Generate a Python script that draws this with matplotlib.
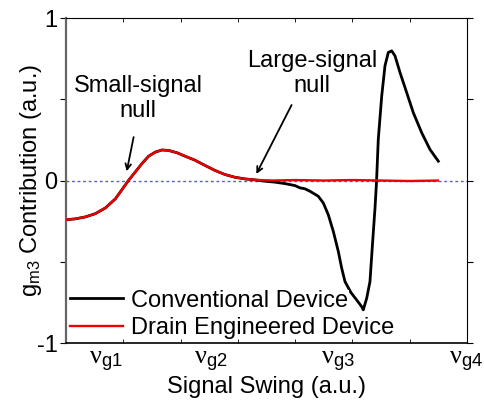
import matplotlib
matplotlib.use('Agg')
import matplotlib.pyplot as plt
import numpy as np

plt.rcParams['font.family'] = ['Liberation Sans', 'DejaVu Sans']
plt.rcParams['mathtext.fontset'] = 'custom'
plt.rcParams['mathtext.rm'] = 'Liberation Serif'
plt.rcParams['mathtext.it'] = 'Liberation Serif:italic'
plt.rcParams['mathtext.sf'] = 'Liberation Sans'

# shared part of both curves (signal swing, gm3 contribution)
x_common = [0.0, 0.162, 0.337, 0.511, 0.686, 0.861, 0.977, 1.094, 1.210,
            1.327, 1.443, 1.559, 1.676, 1.793, 1.938, 2.077, 2.252, 2.426,
            2.601, 2.775, 2.950, 3.124, 3.299]
y_common = [-0.241, -0.236, -0.224, -0.204, -0.169, -0.113, -0.056, 0.002,
            0.053, 0.105, 0.150, 0.175, 0.188, 0.185, 0.171, 0.150, 0.125,
            0.093, 0.062, 0.037, 0.020, 0.010, 0.004]

# conventional device beyond the small-signal region
x_conv_tail = [3.474, 3.648, 3.823, 3.997, 4.084, 4.172, 4.259, 4.404, 4.491,
               4.578, 4.666, 4.753, 4.812, 4.870, 4.975, 5.074, 5.161, 5.189,
               5.249, 5.306, 5.353, 5.394, 5.420, 5.451, 5.511, 5.568, 5.626,
               5.685, 5.743, 5.830, 5.947, 6.062, 6.209, 6.354, 6.499]
y_conv_tail = [-0.004, -0.010, -0.019, -0.031, -0.045, -0.051, -0.066, -0.097,
               -0.138, -0.210, -0.313, -0.436, -0.539, -0.622, -0.690, -0.735,
               -0.776, -0.796, -0.724, -0.622, -0.375, -0.169, -0.010, 0.253,
               0.520, 0.706, 0.788, 0.798, 0.767, 0.665, 0.541, 0.418, 0.294,
               0.191, 0.119]

# drain engineered device stays at the null
x_de_tail = [3.6, 4.0, 4.5, 5.0, 5.5, 6.0, 6.49]
y_de_tail = [0.0, 0.003, 0.0, 0.003, 0.0, -0.003, 0.0]

x_conv = x_common + x_conv_tail
y_conv = y_common + y_conv_tail
x_de = x_common + x_de_tail
y_de = y_common + y_de_tail

swing_pos = [0.70, 2.53, 4.75, 6.99]
swing_labels = [r'$\mathrm{\nu}_{\mathsf{g1}}$', r'$\mathrm{\nu}_{\mathsf{g2}}$',
                r'$\mathrm{\nu}_{\mathsf{g3}}$', r'$\mathrm{\nu}_{\mathsf{g4}}$']

fig = plt.figure(figsize=(4.84, 4.05), dpi=100)
ax = fig.add_axes([0.1364, 0.153, 0.8285, 0.8025])

ax.axhline(0, color='#5555ff', lw=1.0, ls=(0, (2, 2)), zorder=1)
ax.plot(x_conv, y_conv, color='black', lw=2.0, label='Conventional Device',
        zorder=2, solid_joinstyle='round')
ax.plot(x_de, y_de, color='#ee0000', lw=1.7, label='Drain Engineered Device',
        zorder=3, solid_joinstyle='round')

ax.set_xlim(0, 7)
ax.set_ylim(-1, 1)
ax.set_xticks(np.arange(0, 8, 1))
ax.set_xticklabels([])
ax.set_yticks([-1, -0.5, 0, 0.5, 1])
ax.set_yticklabels(['-1', '', '0', '', '1'], fontsize=17)
ax.tick_params(axis='x', direction='in', length=3, top=True, width=0.6)
ax.tick_params(axis='y', direction='out', length=4, right=True, width=0.8, pad=2)
ax.spines['left'].set_color('#666666')
ax.spines['left'].set_linewidth(1.6)
ax.spines['bottom'].set_linewidth(1.2)

for xp, lab in zip(swing_pos, swing_labels):
    ax.text(xp, -1.04, lab, ha='center', va='top', fontsize=19, clip_on=False)

ax.set_xlabel('Signal Swing (a.u.)', fontsize=17)
ax.xaxis.set_label_coords(0.5, -0.1)
ax.set_ylabel(r'g$_{\mathsf{m3}}$ Contribution (a.u.)', fontsize=17)
ax.yaxis.set_label_coords(-0.056, 0.5)

ax.annotate('', xy=(1.05, 0.04), xytext=(1.19, 0.284),
            arrowprops=dict(arrowstyle='->', lw=1.3, color='black'))
ax.text(1.26, 0.506, 'Small-signal\nnull', ha='center', va='center',
        fontsize=17, linespacing=1.2)
ax.annotate('', xy=(3.30, 0.025), xytext=(3.96, 0.48),
            arrowprops=dict(arrowstyle='->', lw=1.3, color='black'))
ax.text(4.30, 0.66, 'Large-signal\nnull', ha='center', va='center',
        fontsize=17, linespacing=1.2)

leg = ax.legend(loc='lower left', bbox_to_anchor=(0, 0), borderaxespad=0,
                fontsize=17, frameon=False, borderpad=0.15, handlelength=2.25,
                handletextpad=0.37, labelspacing=0.25)
for t in leg.get_texts():
    t.set_bbox(dict(facecolor='white', edgecolor='none', pad=0))

fig.savefig('out.png', dpi=100)
